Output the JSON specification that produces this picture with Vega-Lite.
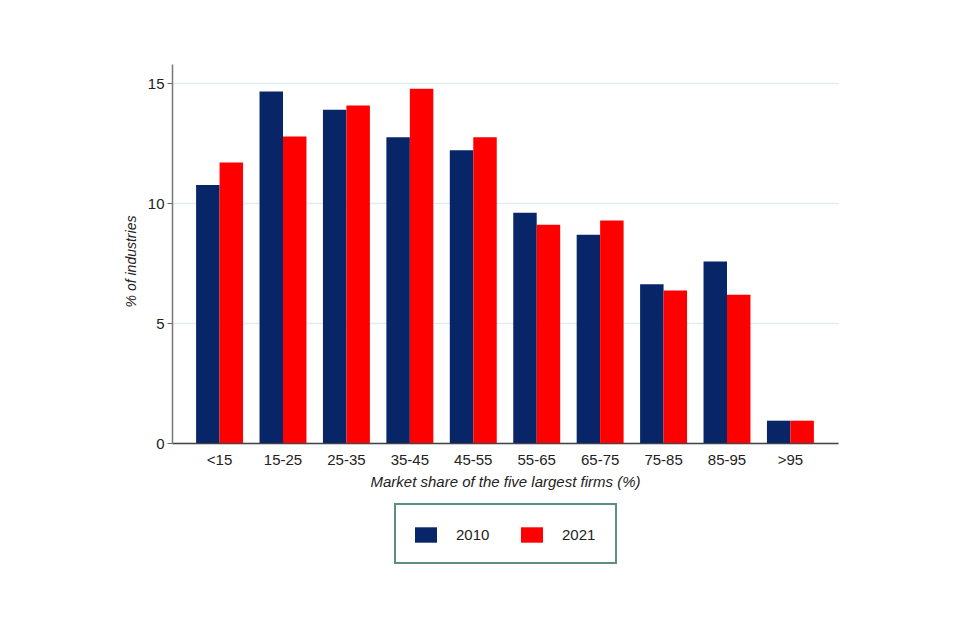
{
  "$schema": "https://vega.github.io/schema/vega-lite/v6.json",
  "autosize": {"type": "none"},
  "width": 666,
  "height": 379,
  "padding": {"left": 172, "top": 64, "right": 122, "bottom": 197},
  "background": "white",
  "config": {
    "view": {"stroke": null},
    "font": "Liberation Sans",
    "axis": {"labelFont": "Liberation Sans", "titleFont": "Liberation Sans", "labelColor": "#222", "titleColor": "#222"}
  },
  "data": {
    "values": [
      {"share": "<15", "year": "2010", "pct": 10.76},
      {"share": "<15", "year": "2021", "pct": 11.69},
      {"share": "15-25", "year": "2010", "pct": 14.65},
      {"share": "15-25", "year": "2021", "pct": 12.78},
      {"share": "25-35", "year": "2010", "pct": 13.89},
      {"share": "25-35", "year": "2021", "pct": 14.07},
      {"share": "35-45", "year": "2010", "pct": 12.75},
      {"share": "35-45", "year": "2021", "pct": 14.77},
      {"share": "45-55", "year": "2010", "pct": 12.2},
      {"share": "45-55", "year": "2021", "pct": 12.75},
      {"share": "55-65", "year": "2010", "pct": 9.6},
      {"share": "55-65", "year": "2021", "pct": 9.1},
      {"share": "65-75", "year": "2010", "pct": 8.68},
      {"share": "65-75", "year": "2021", "pct": 9.28},
      {"share": "75-85", "year": "2010", "pct": 6.62},
      {"share": "75-85", "year": "2021", "pct": 6.36},
      {"share": "85-95", "year": "2010", "pct": 7.57},
      {"share": "85-95", "year": "2021", "pct": 6.18},
      {"share": ">95", "year": "2010", "pct": 0.93},
      {"share": ">95", "year": "2021", "pct": 0.93}
    ]
  },
  "mark": {"type": "bar"},
  "encoding": {
    "x": {
      "field": "share",
      "type": "nominal",
      "sort": null,
      "scale": {"paddingInner": 0.26, "paddingOuter": 0.38},
      "axis": {
        "title": "Market share of the five largest firms (%)",
        "titleFontStyle": "italic",
        "titleFontWeight": "normal",
        "titleFontSize": 15,
        "titlePadding": 7,
        "labelFontSize": 15,
        "labelAngle": 0,
        "labelPadding": 9,
        "ticks": false,
        "domainColor": "#444",
        "domainWidth": 1.5
      }
    },
    "xOffset": {"field": "year", "type": "nominal"},
    "y": {
      "field": "pct",
      "type": "quantitative",
      "scale": {"domain": [0, 15.8], "nice": false},
      "axis": {
        "title": "% of industries",
        "titleFontStyle": "italic",
        "titleFontWeight": "normal",
        "titleFontSize": 14,
        "titlePadding": 9,
        "titleY": 197,
        "values": [0, 5, 10, 15],
        "labelFontSize": 15,
        "labelPadding": 3,
        "tickSize": 5,
        "tickColor": "#666",
        "domainColor": "#777",
        "domainWidth": 1.5,
        "gridColor": "#e3edef",
        "gridWidth": 1.5
      }
    },
    "color": {
      "field": "year",
      "type": "nominal",
      "scale": {"domain": ["2010", "2021"], "range": ["#082567", "#ff0000"]},
      "legend": {
        "title": null,
        "orient": "none",
        "direction": "horizontal",
        "legendX": 223,
        "legendY": 440,
        "padding": 20,
        "strokeColor": "#5f8d84",
        "symbolType": "M-1,-0.7H1V0.7H-1Z",
        "symbolSize": 484,
        "symbolStrokeWidth": 0,
        "labelFontSize": 15,
        "labelColor": "#222",
        "labelOffset": 19,
        "columnPadding": 31,
        "encode": {"legend": {"update": {"strokeWidth": {"value": 2}}}}
      }
    }
  }
}
